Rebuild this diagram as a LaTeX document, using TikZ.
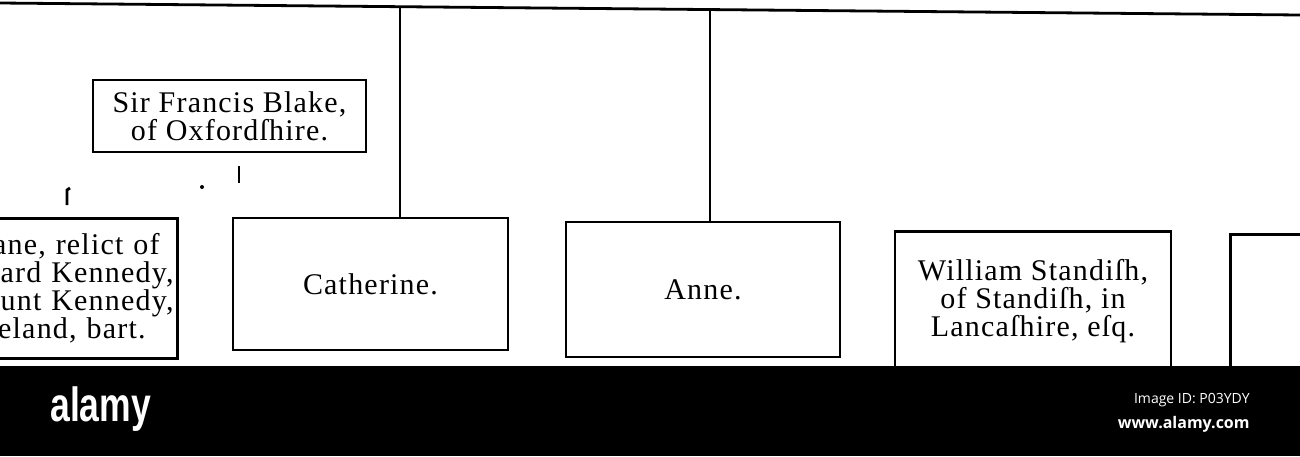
\documentclass[tikz,border=0pt]{standalone}
\usepackage{fontspec}
\setmainfont[LetterSpace=4]{Liberation Serif}
\newfontfamily\logofont{Liberation Sans}
\newfontfamily\idfont{Open Sans}
\begin{document}
\begin{tikzpicture}[x=0.5pt,y=-0.5pt,
    person/.style={draw,line width=1.4pt,align=center,inner sep=2pt,
      font=\fontsize{15}{14}\selectfont},
    link/.style={line width=1.4pt}]
  \useasboundingbox (0,0) rectangle (1300,456);
  \clip (0,0) rectangle (1300,456);

  \node[person,minimum width=136.5pt,minimum height=36pt] (Blake) at (229.5,116) {Sir Francis Blake,\\of Oxfordſhire.};

  \node[person,anchor=north east,minimum width=150pt,minimum height=70pt,text width=146pt,align=right] (Jane) at (179,217) {Jane, relict of\rule{7pt}{0pt}\\Sir Richard Kennedy,\\of Mount Kennedy,\\in Ireland, bart.\rule{14pt}{0pt}};
  \node[person,minimum width=137.5pt,minimum height=66pt] (Catherine) at (370.5,284) {Catherine.};
  \node[person,minimum width=137pt,minimum height=67.5pt] (Anne) at (703,289.5) {Anne.};
  \node[person,anchor=north,minimum width=138pt,minimum height=70pt,yshift=-2pt] (Standish) at (1033,226) {William Standiſh,\\of Standiſh, in\\Lancaſhire, eſq.};
  \node[person,anchor=north west,minimum width=80pt,minimum height=80pt] (Next) at (1229,233) {};

  \coordinate (LineL) at (0,3);
  \coordinate (LineR) at (1300,15);
  \coordinate (DropC) at (400,6.7);
  \coordinate (DropA) at (710,9.6);
  \draw[link] (LineL) -- (LineR);
  \draw[link] (DropC) -- (DropC |- Catherine.north);
  \draw[link] (DropA) -- (DropA |- Anne.north);

  % what is left of the line under Blake
  \coordinate (StubT) at (239,166);
  \coordinate (StubB) at (239,183);
  \coordinate (Hook) at (67,205);
  \draw[link] (StubT) -- (StubB);
  \fill (202,187) circle (1pt);
  \draw[link] (Hook) -- ++(0,-15) -- ++(3,-2);

  % the band at the foot
  \fill[black] (0,366) rectangle (1300,456);
  \node[anchor=base west,inner sep=0,text=white,xscale=0.74,
    font=\logofont\bfseries\fontsize{24}{24}\selectfont] (Logo) at (50,421) {alamy};
  \node[anchor=base east,inner sep=0,text=white,
    font=\idfont\fontsize{7}{7}\selectfont] (ImageID) at (1250,403) {Image ID: P03YDY};
  \node[anchor=base east,inner sep=0,text=white,
    font=\idfont\bfseries\fontsize{8}{8}\selectfont] (Site) at (1250,428) {www.alamy.com};
\end{tikzpicture}
\end{document}
